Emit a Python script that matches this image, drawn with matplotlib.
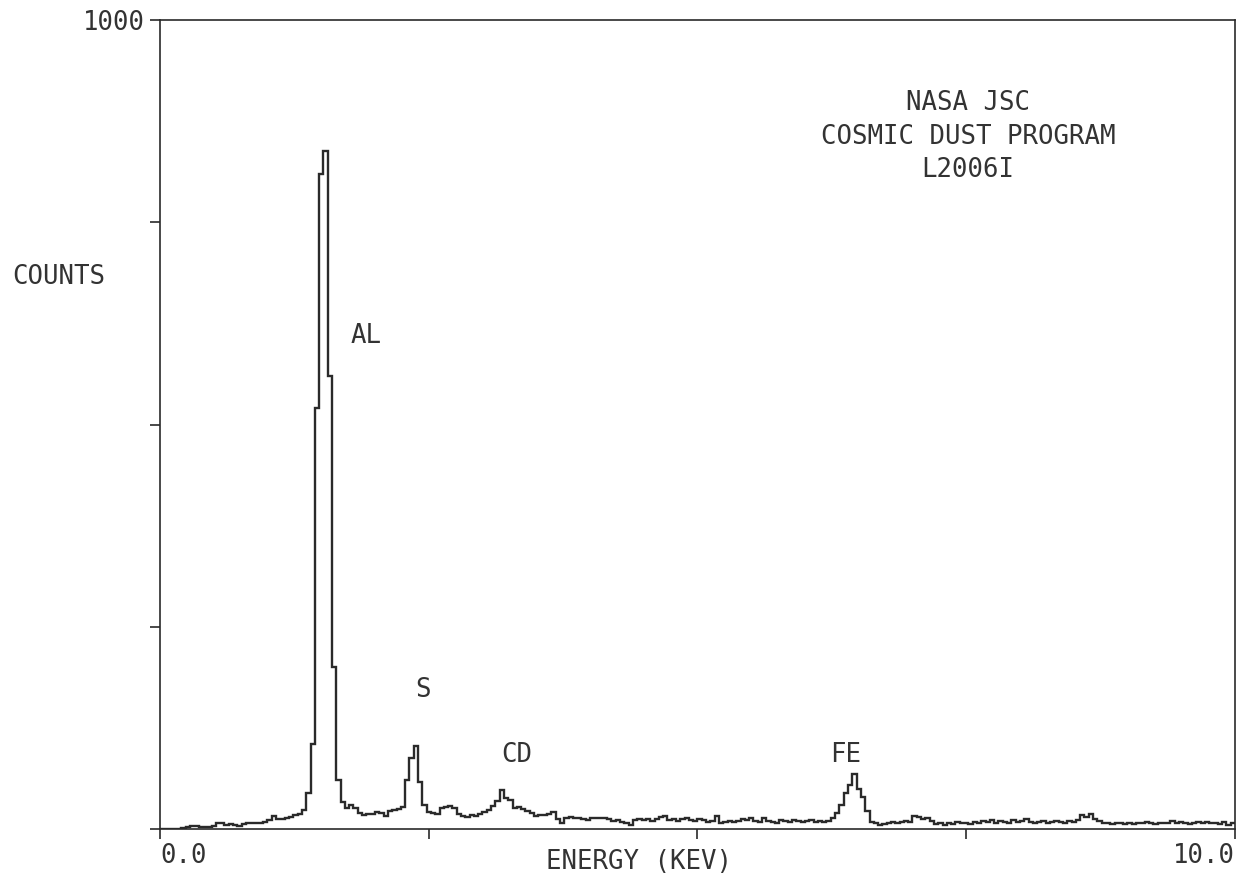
import numpy as np
import matplotlib
matplotlib.use("Agg")
import matplotlib.pyplot as plt

# ---- data ----
channel_width_kev = 0.04
counts = [
    0, 0, 0, 0, 0, 1, 2, 4, 4, 2,
    2, 3, 4, 7, 8, 5, 6, 5, 4, 6,
    8, 7, 8, 8, 9, 11, 16, 12, 12, 14,
    15, 17, 18, 24, 45, 105, 520, 810, 838, 560,
    200, 60, 33, 26, 30, 26, 20, 17, 18, 18,
    21, 20, 16, 22, 24, 25, 27, 60, 88, 102,
    58, 30, 21, 20, 18, 26, 27, 28, 26, 18,
    16, 15, 17, 16, 19, 21, 24, 29, 34, 48,
    38, 36, 26, 27, 25, 22, 20, 16, 17, 17,
    19, 21, 12, 7, 14, 15, 14, 13, 12, 11,
    13, 14, 13, 14, 12, 10, 11, 9, 8, 5,
    11, 12, 11, 12, 10, 12, 15, 16, 11, 12,
    10, 12, 13, 11, 10, 12, 11, 9, 10, 16,
    7, 9, 10, 9, 10, 12, 11, 13, 10, 9,
    14, 10, 9, 8, 11, 10, 9, 11, 10, 9,
    10, 11, 9, 10, 9, 10, 13, 20, 30, 45,
    55, 68, 50, 40, 22, 9, 8, 5, 6, 8,
    9, 8, 9, 10, 9, 16, 15, 12, 14, 10,
    6, 7, 5, 8, 6, 9, 7, 8, 6, 9,
    8, 10, 9, 11, 8, 10, 9, 8, 11, 9,
    10, 12, 9, 8, 9, 10, 8, 9, 10, 9,
    8, 10, 9, 11, 17, 15, 18, 12, 10, 7,
    8, 6, 7, 8, 6, 7, 6, 8, 7, 9,
    7, 6, 8, 7, 8, 10, 7, 9, 8, 6,
    7, 9, 8, 9, 7, 8, 6, 9, 5, 8,
]
x_ticks = [0.0, 2.5, 5.0, 7.5, 10.0]
x_tick_labels = ["0.0", "", "", "", "10.0"]
y_ticks = [0, 250, 500, 750, 1000]
y_tick_labels = ["", "", "", "", "1000"]
peak_labels = ["AL", "S", "CD", "FE"]
peak_label_pos = [(1.92, 610), (2.45, 172), (3.32, 92), (6.38, 92)]
title_lines = ["NASA JSC", "COSMIC DUST PROGRAM", "L2006I"]
x_label = "ENERGY (KEV)"
y_label = "COUNTS"

# ---- figure ----
W, H = 1246, 881
fig = plt.figure(figsize=(W / 100, H / 100), dpi=100)
fig.patch.set_facecolor("white")

def fx(px):
    return px / W

def fy(py):
    return 1 - py / H

ax = fig.add_axes([fx(160), fy(829), fx(1235) - fx(160), fy(20) - fy(829)])
ax.set_xlim(0, 10)
ax.set_ylim(0, 1000)

ink = "#2a2a2a"
font = dict(family=["DejaVu Sans Mono"], color="#333333", fontsize=18.5)

edges = np.arange(len(counts) + 1) * channel_width_kev
ax.stairs(counts, edges, baseline=None, color=ink, linewidth=1.7)

for s in ax.spines.values():
    s.set_color(ink)
    s.set_linewidth(1.2)

ax.set_xticks(x_ticks)
ax.set_yticks(y_ticks)
ax.set_xticklabels([])
ax.set_yticklabels([])
ax.tick_params(direction="out", length=7, width=1.2, color=ink)

# tick labels placed like the plotter output
for v, lab in zip(x_ticks, x_tick_labels):
    if lab:
        ha = "left" if v == x_ticks[0] else "right"
        ax.text(v, -33, lab, ha=ha, va="center", **font)
for v, lab in zip(y_ticks, y_tick_labels):
    if lab:
        ax.text(-0.14, v - 4, lab, ha="right", va="center", **font)

for lab, (xe, yc) in zip(peak_labels, peak_label_pos):
    ax.text(xe, yc, lab, ha="center", va="center", **font)

for i, line in enumerate(title_lines):
    fig.text(fx(968), fy(103 + 33.5 * i), line, ha="center", va="center", **font)

fig.text(fx(639), fy(862), x_label, ha="center", va="center", **font)
fig.text(fx(12), fy(277), y_label, ha="left", va="center", **font)

fig.savefig("out.png", dpi=100, facecolor="white")
